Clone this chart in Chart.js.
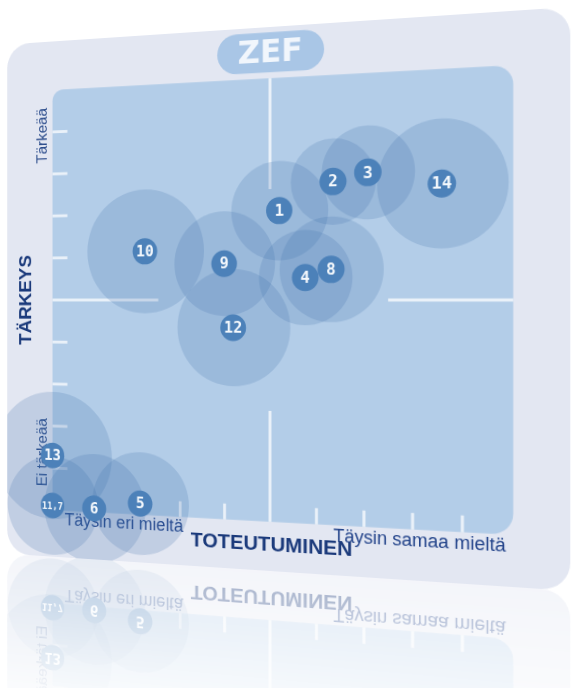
<!DOCTYPE html>
<html lang="fi">
<head>
<meta charset="utf-8">
<title>ZEF – Tärkeys ja toteutuminen</title>
<script src="https://cdn.jsdelivr.net/npm/chart.js@4.4.1/dist/chart.umd.min.js"></script>
<style>
  html, body { margin: 0; padding: 0; background: #fff; overflow: hidden; }
  body { width: 572px; height: 688px; position: relative; }
  #card {
    position: absolute; left: -19px; top: 26.5px;
    width: 577px; height: 544px;
    background: #e3e7f2; border-radius: 26px; overflow: hidden;
    transform-origin: 289px 273px;
    transform: perspective(1000px) rotateY(-13.7deg);
    -webkit-box-reflect: below 0px linear-gradient(transparent 68%, rgba(255,255,255,0.4));
  }
  canvas { display: block; }
</style>
</head>
<body>
<div id="card"><canvas id="zef" width="577" height="544"></canvas></div>
<script>
// kohdat (väittämät) ja niiden arvot, asteikko -5..5
const kohdat       = ['1', '2', '3', '14', '10', '9', '4', '8', '12', '13', '11,7', '6', '5'];
const toteutuminen = [0.2, 1.35, 2.08, 3.59, -2.81, -1.01, 0.76, 1.31, -0.81, -5.0, -5.0, -4.0, -2.92];
const tarkeys      = [2.01, 2.63, 2.81, 2.52, 1.13, 0.83, 0.5, 0.68, -0.63, -3.7, -4.89, -4.91, -4.74];
const hajonta      = [1.05, 0.9, 0.97, 1.32, 1.35, 1.12, 1.0, 1.1, 1.25, 1.42, 1.1, 1.2, 1.12];
const tickValues   = [-4, -3, -2, -1, 1, 2, 3, 4];

const otsikko = 'ZEF';
const yTitle = 'TÄRKEYS', yHigh = 'Tärkeää', yLow = 'Ei tärkeää';
const xTitle = 'TOTEUTUMINEN', xLow = 'Täysin eri mieltä', xHigh = 'Täysin samaa mieltä';

function line(ctx, x1, y1, x2, y2){
  ctx.beginPath(); ctx.moveTo(x1, y1); ctx.lineTo(x2, y2); ctx.stroke();
}

// plot background, cross, ticks and the axis texts (under the bubbles)
const zefFrame = {
  id: 'zefFrame',
  beforeDatasetsDraw(chart){
    const { ctx, chartArea: a, scales: { x, y } } = chart;
    ctx.save();
    ctx.fillStyle = '#b3cde8';
    ctx.beginPath();
    ctx.roundRect(a.left, a.top, a.width, a.height, [12, 18, 20, 12]);
    ctx.fill();

    ctx.strokeStyle = 'rgba(255,255,255,0.72)';
    ctx.lineWidth = 3;
    const cx = x.getPixelForValue(0), cy = y.getPixelForValue(0);
    line(ctx, cx, a.top, cx, y.getPixelForValue(2.5));
    line(ctx, cx, y.getPixelForValue(-2.5), cx, a.bottom);
    line(ctx, a.left, cy, x.getPixelForValue(-2.5), cy);
    line(ctx, x.getPixelForValue(2.5), cy, a.right, cy);
    for (const v of tickValues){
      line(ctx, a.left, y.getPixelForValue(v), a.left + 17, y.getPixelForValue(v));
      line(ctx, x.getPixelForValue(v), a.bottom, x.getPixelForValue(v), a.bottom - 16);
    }

    // axis texts
    ctx.textBaseline = 'middle';
    ctx.fillStyle = '#2a4b8b';
    ctx.font = '16px "Liberation Sans", Arial, sans-serif';
    ctx.textAlign = 'center';
    ctx.save();
    ctx.translate(a.left - 11, a.top + 48); ctx.rotate(-Math.PI / 2);
    ctx.fillText(yHigh, 0, 0);
    ctx.restore();
    ctx.save();
    ctx.translate(a.left - 11, a.top + 383); ctx.rotate(-Math.PI / 2);
    ctx.fillText(yLow, 0, 0);
    ctx.restore();

    ctx.fillStyle = '#1b3a7b';
    ctx.font = 'bold 20px "Liberation Sans", Arial, sans-serif';
    ctx.save();
    ctx.translate(a.left - 30, cy); ctx.rotate(-Math.PI / 2);
    ctx.fillText(yTitle, 0, 0);
    ctx.restore();

    ctx.font = 'bold 21px "Liberation Sans", Arial, sans-serif';
    ctx.fillText(xTitle, cx, a.bottom + 23);

    ctx.fillStyle = '#22438a';
    ctx.font = '18px "Liberation Sans", Arial, sans-serif';
    ctx.textAlign = 'left';
    ctx.fillText(xLow, a.left + 14, a.bottom + 10);
    ctx.textAlign = 'right';
    ctx.fillText(xHigh, a.right - 7, a.bottom + 11);

    // title pill
    ctx.fillStyle = '#a9c6e6';
    ctx.beginPath();
    ctx.roundRect(cx - 55, a.top - 46, 110, 40, 20);
    ctx.fill();
    ctx.fillStyle = 'rgba(247,250,254,0.92)';
    ctx.font = 'bold 32px "DejaVu Sans", sans-serif';
    ctx.textAlign = 'center';
    ctx.fillText(otsikko, cx, a.top - 25);
    ctx.restore();
  }
};

// numbers on the small discs
const zefNumbers = {
  id: 'zefNumbers',
  afterDatasetsDraw(chart){
    const { ctx } = chart;
    const meta = chart.getDatasetMeta(1);
    ctx.save();
    ctx.fillStyle = '#f4f8fc';
    ctx.textAlign = 'center';
    ctx.textBaseline = 'middle';
    meta.data.forEach((pt, i) => {
      const txt = kohdat[i];
      ctx.font = txt.length > 2 ? 'bold 10px "DejaVu Sans Mono", monospace'
                                : 'bold 16px "DejaVu Sans Mono", monospace';
      ctx.fillText(txt, pt.x, pt.y + 1);
    });
    ctx.restore();
  }
};

const chart = new Chart(document.getElementById('zef'), {
  type: 'bubble',
  data: {
    datasets: [
      {
        label: 'Hajonta',
        data: kohdat.map((k, i) => ({ x: toteutuminen[i], y: tarkeys[i] })),
        backgroundColor: 'rgba(60,110,170,0.2)',
        borderWidth: 0,
        clip: false,
        order: 2
      },
      {
        label: 'Kohta',
        data: kohdat.map((k, i) => ({ x: toteutuminen[i], y: tarkeys[i] })),
        backgroundColor: 'rgb(76,129,185)',
        borderWidth: 0,
        radius: 13.5,
        clip: false,
        order: 1
      }
    ]
  },
  options: {
    responsive: false,
    animation: false,
    events: [],
    layout: { autoPadding: false, padding: { left: 52.6, right: 51.6, top: 51.2, bottom: 49.2 } },
    scales: {
      x: { type: 'linear', min: -5, max: 5, display: false },
      y: { type: 'linear', min: -5, max: 5, display: false }
    },
    plugins: { legend: { display: false }, tooltip: { enabled: false } }
  },
  plugins: [zefFrame, zefNumbers]
});

// bubble size: spread in axis units turned into pixels with the x scale
const xs = chart.scales.x;
const pxPerUnit = Math.abs(xs.getPixelForValue(1) - xs.getPixelForValue(0));
chart.data.datasets[0].data.forEach((p, i) => { p.r = hajonta[i] * pxPerUnit; });
chart.update();
</script>
</body>
</html>
